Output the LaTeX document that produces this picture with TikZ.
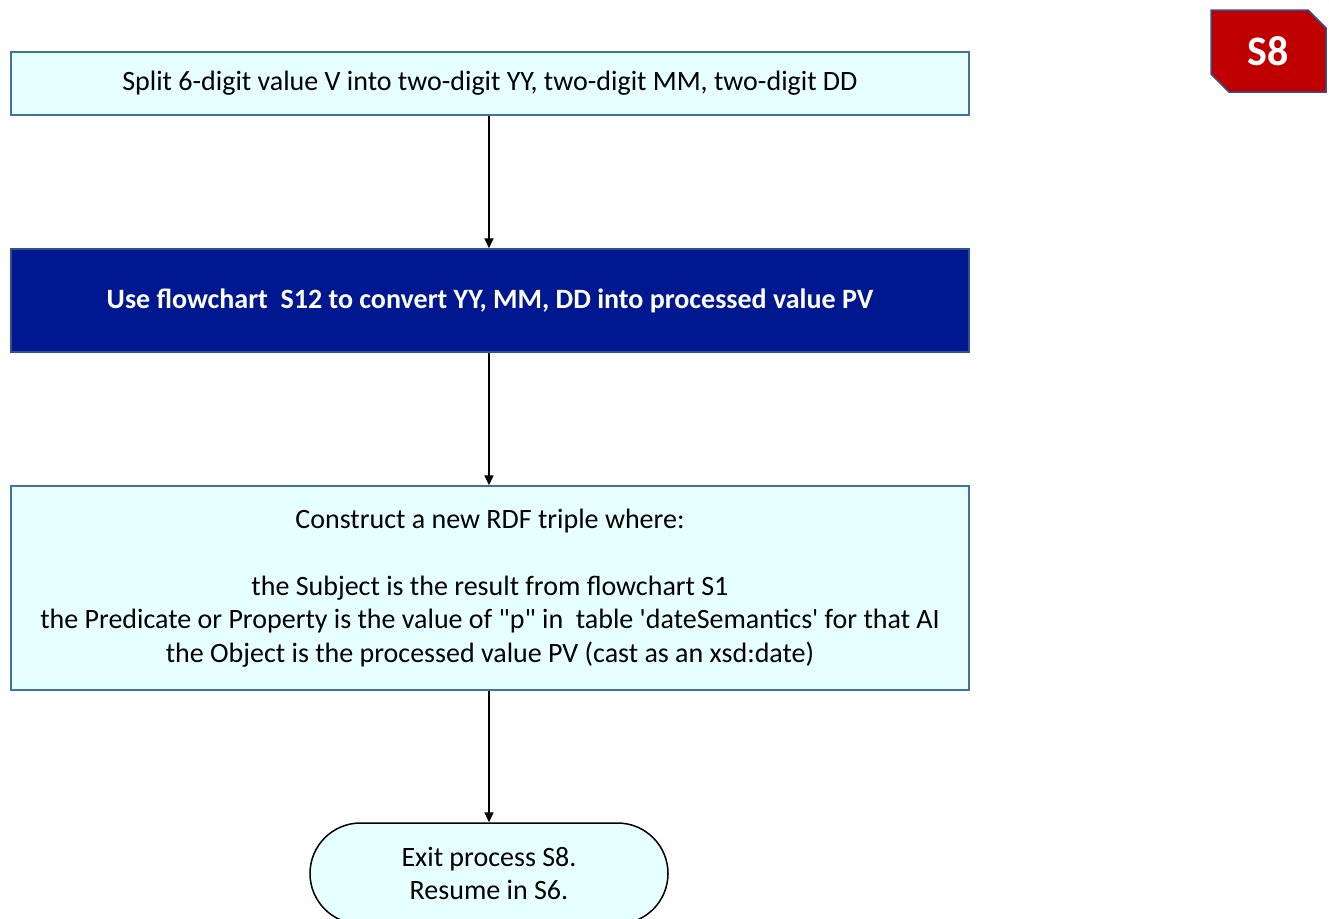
\documentclass[tikz,border=0pt]{standalone}
\usepackage{fontspec}
\newfontfamily\calibfont{Carlito}
\usepackage{tikz}
\usetikzlibrary{positioning,arrows.meta,shapes.misc}

\definecolor{boxfill}{HTML}{E6FFFF}
\definecolor{boxline}{HTML}{41719C}
\definecolor{navyfill}{HTML}{00188F}
\definecolor{navyline}{HTML}{2F528F}
\definecolor{badgered}{HTML}{C00000}

\begin{document}
\begin{tikzpicture}[x=1pt,y=-1pt,
		font=\calibfont\fontsize{28}{33.5}\selectfont,
		process_box/.style={rectangle,draw=boxline,fill=boxfill,line width=1.5pt,minimum width=958pt,inner sep=0pt,align=center},
		navy_box/.style={rectangle,draw=navyline,fill=navyfill,line width=1.5pt,minimum width=958pt,inner sep=0pt,text=white,font=\calibfont\bfseries\fontsize{28}{33.5}\selectfont},
		exit_box/.style={rounded rectangle,draw=black,fill=boxfill,line width=1.5pt,minimum width=358pt,minimum height=101pt,inner sep=0pt,align=center},
		badge_box/.style={chamfered rectangle,chamfered rectangle corners={north east,south west},chamfered rectangle xsep=9pt,chamfered rectangle ysep=9pt,draw=navyline,fill=badgered,line width=1.5pt,minimum width=115pt,minimum height=82pt,inner sep=0pt,text=white,font=\calibfont\bfseries\fontsize{42}{46}\selectfont},
		flow_arrow/.style={line width=2pt,-{Triangle[length=10pt,width=9pt]}}
		]
		\useasboundingbox (0,0) rectangle (1329,918);
		\clip (0,0) rectangle (1329,918);
		
		\node[process_box, minimum height=63pt] (split) at (490,83.5) {Split 6-digit value V into two-digit YY, two-digit MM, two-digit DD};
		\node[navy_box, minimum height=103pt] (convert) at (490,300.5) {Use flowchart\ \ S12 to convert YY, MM, DD into processed value PV};
		\node[process_box, minimum height=204pt] (triple) at (490,588) {Construct a new RDF triple where:\\ \mbox{}\\
			the Subject is the result from flowchart S1\\
			the Predicate or Property is the value of "p" in\ \ table 'dateSemantics' for that AI\\
			the Object is the processed value PV (cast as an xsd:date)};
		\node[exit_box] (exit) at (489,873.5) {Exit process S8.\\Resume in S6.};
		
		\node[badge_box] (badge) at (1268.5,51) {S8};
		
		\draw[flow_arrow] (split.south -| exit.north) -- (convert.north -| exit.north);
		\draw[flow_arrow] (convert.south -| exit.north) -- (triple.north -| exit.north);
		\draw[flow_arrow] (triple.south -| exit.north) -- (exit.north);
	\end{tikzpicture}
\end{document}
